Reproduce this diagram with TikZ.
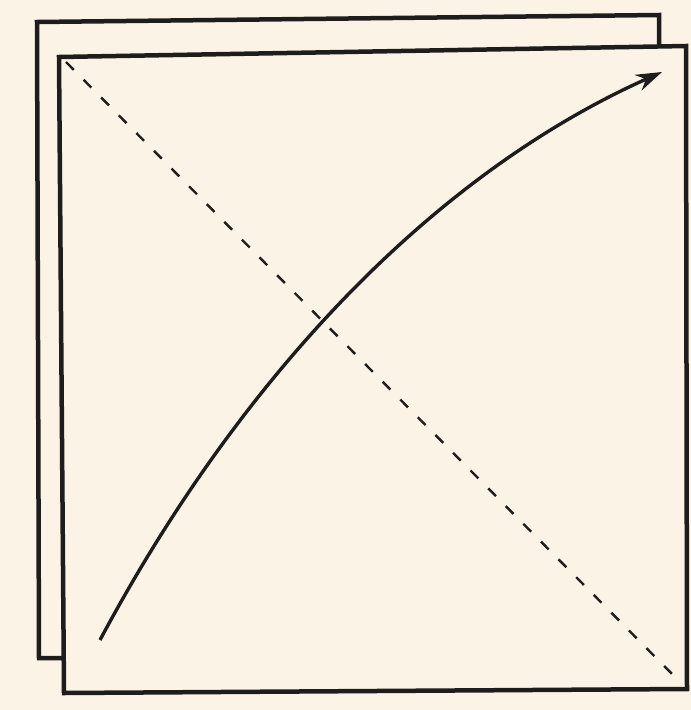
\documentclass[tikz,border=0pt]{standalone}
\usetikzlibrary{arrows.meta}
\definecolor{paper}{HTML}{FBF3E6}
\definecolor{ink}{HTML}{1E1C1C}
\begin{document}
\begin{tikzpicture}[x=1pt,y=-1pt,
  sheet/.style={draw=ink,line width=4.5pt,line join=miter},
  diag/.style={draw=ink,line width=2.4pt,dash pattern=on 11pt off 14pt},
  flow/.style={draw=ink,line width=3.4pt,-{Stealth[length=26pt,width=17pt]}}]
\fill[paper] (0,0) rectangle (691,710);
\useasboundingbox (0,0) rectangle (691,710);
% back sheet
\coordinate (b1) at (37,22);
\coordinate (b2) at (659,15);
\coordinate (b3) at (660,658);
\coordinate (b4) at (39,658);
\draw[sheet] (b1) -- (b2) -- (b3) -- (b4) -- cycle;
% front sheet
\coordinate (f1) at (59,57);
\coordinate (f2) at (686,46);
\coordinate (f3) at (687,689);
\coordinate (f4) at (64,693);
\fill[paper] (f1) -- (f2) -- (f3) -- (f4) -- cycle;
\draw[sheet] (f1) -- (f2) -- (f3) -- (f4) -- cycle;
% dashed diagonal
\coordinate (d1) at (66,62);
\coordinate (d2) at (680,682);
\draw[diag] (d1) -- (d2);
% curved arrow
\coordinate (s) at (100,640);
\coordinate (c1) at (241,376);
\coordinate (c2) at (434,174);
\coordinate (e) at (662,72);
\draw[flow] (s) .. controls (c1) and (c2) .. (e);
\end{tikzpicture}
\end{document}
